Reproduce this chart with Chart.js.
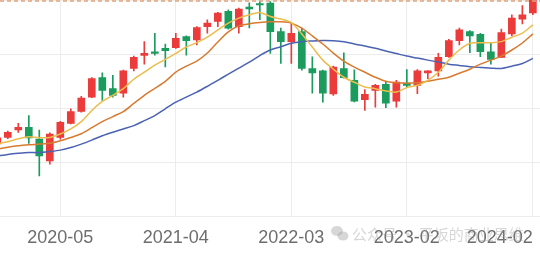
<!DOCTYPE html>
<html>
<head>
<meta charset="utf-8">
<script src="https://cdn.jsdelivr.net/npm/chart.js@4.4.1/dist/chart.umd.min.js"></script>
<style>
  html, body { margin: 0; padding: 0; background: #fff; }
  #wrap { width: 540px; height: 257px; }
</style>
</head>
<body>
<div id="wrap"><canvas id="kChart"></canvas></div>
<script>
// monthly candles, 2019-11 .. 2024-02
const months = [
    '2019-11', '2019-12',
    '2020-01', '2020-02', '2020-03', '2020-04', '2020-05', '2020-06', '2020-07', '2020-08', '2020-09', '2020-10', '2020-11', '2020-12',
    '2021-01', '2021-02', '2021-03', '2021-04', '2021-05', '2021-06', '2021-07', '2021-08', '2021-09', '2021-10', '2021-11', '2021-12',
    '2022-01', '2022-02', '2022-03', '2022-04', '2022-05', '2022-06', '2022-07', '2022-08', '2022-09', '2022-10', '2022-11', '2022-12',
    '2023-01', '2023-02', '2023-03', '2023-04', '2023-05', '2023-06', '2023-07', '2023-08', '2023-09', '2023-10', '2023-11', '2023-12',
    '2024-01', '2024-02'
];
const opens  = [1241, 1350, 1477, 1522, 1322, 948, 1350, 1591, 1793, 2040, 2374, 2184, 2109, 2529, 2753, 2815, 2874, 2884, 3074, 3017, 3246, 3333, 3505, 3246, 3577, 3638, 3646, 3160, 2988, 3160, 2529, 2488, 2095, 2529, 2327, 1995, 2155, 2258, 1971, 2281, 2241, 2453, 2488, 2729, 3005, 3160, 3115, 2815, 2719, 3120, 3374, 3477];
const closes = [1345, 1436, 1522, 1340, 1034, 1408, 1608, 1793, 2022, 2357, 2155, 2069, 2488, 2719, 2788, 2788, 2833, 3046, 3005, 3229, 3305, 3477, 3219, 3546, 3546, 3615, 3160, 2988, 3132, 2529, 2453, 2109, 2552, 2374, 1971, 2086, 2241, 1936, 2298, 2241, 2488, 2488, 2719, 3005, 3189, 3086, 2815, 2684, 3143, 3391, 3448, 3724];
const highs  = [1379, 1457, 1591, 1724, 1477, 1431, 1626, 1840, 2052, 2374, 2453, 2414, 2500, 2741, 2988, 3132, 2948, 3132, 3086, 3246, 3362, 3488, 3534, 3563, 3650, 3681, 3672, 3219, 3315, 3219, 2729, 2500, 2569, 2798, 2508, 2167, 2258, 2298, 2327, 2512, 2512, 2491, 2788, 3029, 3219, 3177, 3132, 2970, 3201, 3448, 3603, 3758];
const lows   = [1207, 1327, 1436, 1246, 690, 891, 1322, 1581, 1781, 2029, 1983, 2040, 2040, 2488, 2603, 2758, 2557, 2874, 2758, 2931, 3132, 3246, 3201, 3132, 3224, 3362, 2788, 2615, 2615, 2500, 2109, 1953, 2069, 2362, 1957, 1810, 1867, 1857, 1867, 2202, 2098, 2357, 2396, 2719, 2931, 2798, 2729, 2603, 2719, 3086, 3293, 3448];

// moving averages as drawn
const ma5  = [1241, 1276, 1327, 1362, 1345, 1350, 1408, 1495, 1621, 1810, 1965, 2069, 2184, 2345, 2465, 2586, 2684, 2788, 2896, 2970, 3064, 3189, 3305, 3391, 3448, 3488, 3419, 3374, 3315, 3120, 2896, 2672, 2517, 2379, 2293, 2212, 2184, 2143, 2126, 2202, 2241, 2327, 2465, 2672, 2845, 2960, 2970, 2970, 2988, 3064, 3132, 3276];
const ma10 = [1150, 1181, 1207, 1224, 1236, 1250, 1293, 1350, 1414, 1517, 1621, 1707, 1793, 1931, 2069, 2189, 2310, 2465, 2569, 2655, 2793, 2983, 3155, 3258, 3293, 3315, 3327, 3327, 3305, 3219, 3086, 2948, 2793, 2655, 2552, 2465, 2379, 2310, 2284, 2276, 2284, 2310, 2345, 2379, 2448, 2517, 2603, 2672, 2741, 2845, 2965, 3120];
const ma20 = [1034, 1060, 1078, 1091, 1091, 1109, 1133, 1177, 1236, 1305, 1379, 1440, 1495, 1552, 1638, 1724, 1840, 1953, 2040, 2126, 2224, 2327, 2431, 2534, 2638, 2750, 2845, 2901, 2960, 2988, 3000, 3008, 3005, 2988, 2948, 2914, 2874, 2827, 2784, 2741, 2707, 2672, 2638, 2603, 2581, 2560, 2546, 2534, 2529, 2569, 2615, 2701];

const tickIdx = [1, 6, 17, 28, 39, 51];   // index 1 is a blank helper tick
const peakLine = 3681;

const upColor = '#eb3b3b';
const downColor = '#1b9b5e';
const gridColor = '#ececec';

const candleColor = (ctx) => {
    const i = ctx.dataIndex;
    return closes[i] >= opens[i] ? upColor : downColor;
};

const bodies = opens.map((o, i) => ({ x: i, y: [o, closes[i]] }));
const wicks = lows.map((l, i) => ({ x: i, y: [l, highs[i]] }));
const line = (arr) => arr.map((v, i) => ({ x: i, y: v }));

// dashed mark line at the previous peak + watermark
const extras = {
    id: 'extras',
    afterDatasetsDraw(chart) {
        const { ctx, chartArea, scales } = chart;
        const y = scales.y.getPixelForValue(peakLine);
        ctx.save();
        ctx.strokeStyle = '#dfa47c';
        ctx.lineWidth = 1.5;
        ctx.setLineDash([4, 3]);
        ctx.beginPath();
        ctx.moveTo(chartArea.left, y);
        ctx.lineTo(chartArea.right, y);
        ctx.stroke();
        ctx.restore();
    },
    afterDraw(chart) {
        const ctx = chart.ctx;
        ctx.save();
        ctx.globalAlpha = 0.4;
        ctx.fillStyle = '#9a9a9a';
        ctx.beginPath();
        ctx.ellipse(337, 231, 6, 5, 0, 0, Math.PI * 2);
        ctx.fill();
        ctx.beginPath();
        ctx.ellipse(343, 236, 5.5, 4.5, 0, 0, Math.PI * 2);
        ctx.fill();
        ctx.font = '15px "Noto Sans CJK SC"';
        ctx.textBaseline = 'middle';
        ctx.fillText('公众号 · 平坂的商业思维', 352, 234);
        ctx.restore();
    }
};

new Chart(document.getElementById('kChart'), {
    type: 'bar',
    data: {
        datasets: [
            { type: 'line', data: line(ma5), borderColor: '#ecbd4e', borderWidth: 1.5, pointRadius: 0, tension: 0.3, order: 1 },
            { type: 'line', data: line(ma10), borderColor: '#d87a30', borderWidth: 1.5, pointRadius: 0, tension: 0.3, order: 1 },
            { type: 'line', data: line(ma20), borderColor: '#4b62b3', borderWidth: 1.5, pointRadius: 0, tension: 0.3, order: 1 },
            { data: bodies, backgroundColor: candleColor, barThickness: 7, minBarLength: 1.5, grouped: false, order: 2 },
            { data: wicks, backgroundColor: candleColor, barThickness: 1, grouped: false, order: 3 }
        ]
    },
    options: {
        responsive: true,
        maintainAspectRatio: false,
        animation: false,
        layout: { padding: { left: 0, right: 0, top: 0, bottom: 3 } },
        plugins: { legend: { display: false }, tooltip: { enabled: false } },
        scales: {
            x: {
                type: 'linear',
                min: 0.257,
                max: 51.68,
                offset: false,
                border: { display: false },
                grid: {
                    offset: false,
                    drawTicks: true,
                    tickLength: 6,
                    tickColor: 'rgba(0,0,0,0)',
                    color: (c) => (c.tick && c.tick.value === 1) ? 'rgba(0,0,0,0)' : gridColor
                },
                afterBuildTicks: (scale) => {
                    scale.ticks = tickIdx.map(v => ({ value: v }));
                },
                ticks: {
                    align: 'inner',
                    autoSkip: false,
                    maxRotation: 0,
                    padding: 5,
                    color: '#6e6e6e',
                    font: { family: 'Arial, "Liberation Sans"', size: 18 },
                    callback: (v) => v === 1 ? '' : months[v]
                }
            },
            y: {
                min: 0,
                max: 3700,
                border: { display: false },
                grid: { color: gridColor, drawTicks: false },
                ticks: { display: false, stepSize: 1000 }
            }
        }
    },
    plugins: [extras]
});
</script>
</body>
</html>
